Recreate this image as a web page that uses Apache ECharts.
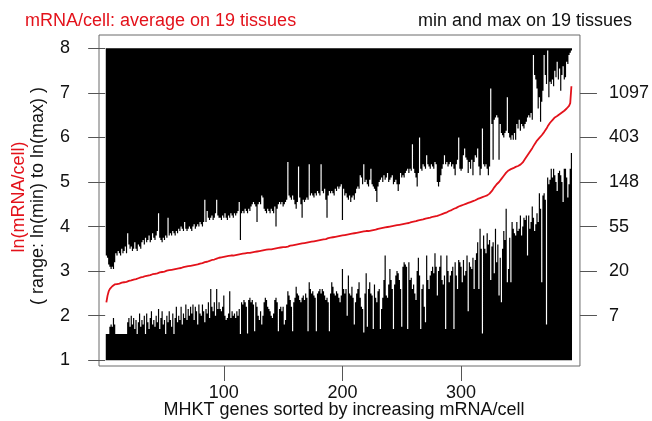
<!DOCTYPE html>
<html><head><meta charset="utf-8">
<script src="https://cdn.jsdelivr.net/npm/echarts@6/dist/echarts.min.js"></script>
<style>html,body{margin:0;padding:0;background:#fff}#c{width:652px;height:421px}</style>
</head><body><div id="c"></div>
<script>
// ln(max) per gene (genes sorted by increasing mean mRNA/cell)
const maxLn = [
3.35,3.3,3.15,3.1,3.05,3.1,3.05,3.2,3.4,3.35,
3.45,3.4,3.35,3.5,3.4,3.45,3.55,3.4,3.85,3.6,
3.5,3.55,3.45,3.5,3.65,3.5,3.45,3.6,3.55,3.5,
3.65,3.7,3.6,3.75,3.65,3.7,3.8,3.65,3.7,3.85,
3.75,3.7,3.8,3.9,4.3,3.75,3.7,3.65,3.75,3.7,
3.8,3.75,4.2,3.8,3.85,3.8,3.9,3.85,3.8,3.9,
3.85,3.95,3.9,4.0,3.95,3.9,4.1,3.95,3.9,3.95,
4.0,3.95,3.9,4.0,4.05,3.95,4.0,4.05,4.0,4.1,
4.05,4.0,4.1,4.6,4.1,4.35,4.2,4.15,4.2,4.25,
4.15,4.2,4.3,4.6,4.25,4.2,4.2,4.15,4.25,4.2,
4.3,4.2,4.15,4.25,4.2,4.3,4.25,4.2,4.3,4.25,
4.3,4.35,4.55,3.7,4.3,4.35,4.3,4.4,4.35,4.3,
4.4,4.35,4.45,4.5,4.55,4.5,4.45,4.1,4.5,4.55,
4.5,4.7,4.65,4.4,4.35,4.3,4.4,4.35,4.3,4.4,
4.35,4.3,4.45,4.0,4.4,4.5,4.55,4.5,4.55,4.45,
4.5,4.55,4.6,5.45,4.7,4.65,4.6,4.7,4.6,4.5,
4.4,4.55,5.35,4.65,4.5,4.2,4.6,4.55,4.6,4.65,
4.6,5.4,4.7,4.75,4.7,4.65,4.75,4.7,4.8,4.75,
4.7,5.4,4.8,4.75,4.85,4.6,4.2,4.7,4.8,4.75,
4.8,4.75,4.7,4.85,4.8,4.9,4.85,4.9,4.95,4.15,
4.85,4.7,4.75,4.65,4.6,4.7,4.55,4.65,4.7,4.6,
4.75,4.85,4.9,4.85,5.15,5.1,4.95,5.4,5.0,5.05,
4.95,4.9,5.05,5.3,4.95,4.9,4.85,4.8,4.55,4.9,
5.0,5.05,5.1,5.0,5.15,5.05,5.1,5.2,5.0,5.05,
5.1,5.15,4.95,5.0,5.05,4.95,4.8,4.95,5.2,5.1,
5.15,5.1,5.2,5.25,5.3,5.2,5.3,5.25,5.85,5.3,
5.2,5.1,4.9,5.2,6.0,5.3,5.25,5.4,5.35,5.3,
5.6,5.4,5.35,5.3,5.4,5.35,5.3,5.45,5.4,5.0,
4.9,5.0,5.15,5.3,5.4,5.6,5.4,5.45,5.35,5.4,
5.45,5.35,5.4,5.3,5.15,5.4,5.5,6.0,5.3,5.25,
5.3,5.6,5.75,5.55,5.5,5.2,5.45,5.3,5.5,5.15,
5.45,5.6,5.55,5.75,5.35,5.15,5.3,6.2,5.4,5.35,
5.4,5.3,5.15,5.35,7.1,6.3,5.5,6.4,6.45,6.5,
6.45,5.5,6.3,6.1,6.05,6.0,6.1,6.15,6.9,6.1,
6.0,5.95,6.05,5.95,6.1,5.95,6.3,6.2,6.4,6.15,
6.3,6.25,6.2,6.3,6.35,6.45,6.5,6.45,6.55,6.4,
7.85,7.4,7.3,7.1,6.65,6.9,6.35,6.8,7.05,7.85,
7.4,7.2,7.95,6.9,7.25,7.2,7.3,7.15,7.5,7.35,
7.7,7.3,7.55,7.05,7.4,7.6,7.3,7.35,7.7,7.65,
7.85,7.9,7.95
];
// ln(min) per gene
const minLn = [
1.59,1.59,1.59,1.75,1.8,1.75,1.95,1.8,1.59,1.59,
1.59,1.59,1.59,1.59,1.59,1.59,1.59,1.59,1.85,1.95,
1.75,2.0,1.8,1.95,1.7,1.9,1.59,1.85,2.05,1.75,
1.9,1.8,2.0,1.59,2.05,1.85,1.7,1.95,2.1,1.8,
1.9,1.75,2.0,1.85,2.15,1.7,1.95,2.1,1.8,1.9,
1.59,2.0,1.85,2.1,1.9,1.75,2.05,1.59,1.95,2.2,
1.85,2.0,1.9,2.2,1.8,2.05,1.95,2.25,1.9,2.15,
2.0,2.2,2.05,2.25,1.9,2.2,2.1,1.8,2.25,2.05,
2.0,2.25,2.1,1.85,2.15,2.05,2.3,1.95,2.6,2.2,
2.1,2.3,2.0,2.6,2.15,2.3,2.15,2.1,2.2,2.45,
2.0,1.9,1.95,2.05,2.55,1.95,2.1,2.0,2.05,1.95,
2.1,2.0,2.15,1.59,2.3,2.25,2.35,2.3,2.2,1.6,
2.35,2.4,2.3,2.35,2.25,1.65,2.3,2.2,2.0,1.9,
2.1,1.8,2.0,2.3,2.4,2.35,2.2,2.15,2.1,2.0,
1.95,2.05,2.35,2.4,2.3,1.65,2.15,2.2,2.1,2.2,
1.8,1.9,2.25,2.55,2.45,2.35,2.2,1.65,2.3,2.4,
2.65,2.5,2.45,2.35,2.3,2.4,2.45,2.35,2.5,2.4,
1.65,2.75,2.6,2.5,2.55,2.45,2.4,1.65,2.5,2.55,
2.6,2.5,2.6,2.55,2.45,2.35,2.4,2.3,1.65,2.5,
2.75,2.65,2.5,2.45,2.55,2.5,2.4,2.3,2.45,3.05,
2.6,2.5,2.6,2.0,2.9,2.5,2.45,2.65,2.4,1.8,
2.3,2.5,2.6,2.75,2.4,2.2,2.15,1.62,2.5,2.95,
1.75,2.6,2.75,2.5,2.45,1.7,2.7,2.4,2.3,2.55,
2.6,1.7,2.15,2.4,2.8,3.35,2.45,2.4,2.7,3.05,
2.8,2.6,1.7,2.7,2.9,3.0,2.95,2.8,2.6,1.75,
3.1,3.2,3.15,3.1,1.7,3.2,2.8,2.85,2.6,2.7,
2.5,2.35,3.0,3.3,2.9,1.7,2.6,2.7,2.2,1.85,
3.35,2.8,2.6,2.9,3.0,3.1,2.95,3.4,3.1,2.45,
3.0,3.1,3.35,2.8,2.7,2.9,1.7,3.35,3.0,2.75,
2.9,3.0,3.1,1.7,3.2,2.9,2.6,3.25,3.2,3.1,
2.75,3.25,2.9,3.0,3.35,2.1,3.2,3.1,3.05,3.3,
2.6,3.25,3.4,3.65,2.6,3.95,3.5,1.6,3.8,3.5,
3.4,3.85,3.6,3.7,2.8,3.55,3.65,2.95,3.95,3.2,
3.6,2.45,3.3,2.3,3.5,3.9,3.7,4.4,2.75,3.05,
3.75,2.75,4.1,3.95,3.85,3.8,4.1,3.9,3.95,4.25,
3.8,4.0,4.2,4.15,4.25,3.35,4.25,3.95,4.1,4.45,
4.2,3.9,4.05,4.3,4.1,4.75,4.4,2.75,4.7,4.75,
4.6,1.8,5.1,4.95,5.05,5.3,5.1,5.3,5.15,5.0,
4.8,5.2,5.25,5.15,5.0,4.55,5.3,5.3,5.1,4.65,
4.95,5.3,5.65
];
// ln(average mRNA/cell) per gene
const avgLn = [
2.30,2.45,2.55,2.60,2.63,2.66,2.68,2.70,2.70,2.71,
2.72,2.72,2.73,2.74,2.74,2.75,2.76,2.76,2.77,2.78,
2.79,2.79,2.80,2.81,2.82,2.82,2.83,2.84,2.85,2.86,
2.86,2.87,2.88,2.89,2.89,2.90,2.91,2.91,2.92,2.93,
2.93,2.94,2.95,2.95,2.96,2.97,2.97,2.98,2.99,2.99,
3.00,3.01,3.01,3.02,3.02,3.03,3.04,3.04,3.05,3.05,
3.06,3.06,3.07,3.07,3.08,3.09,3.09,3.10,3.10,3.11,
3.11,3.12,3.12,3.13,3.14,3.14,3.15,3.15,3.16,3.17,
3.17,3.18,3.19,3.20,3.20,3.21,3.22,3.23,3.24,3.25,
3.25,3.26,3.27,3.28,3.29,3.30,3.30,3.31,3.31,3.32,
3.32,3.33,3.33,3.34,3.34,3.35,3.35,3.35,3.36,3.36,
3.37,3.37,3.38,3.38,3.39,3.39,3.40,3.40,3.40,3.41,
3.41,3.41,3.42,3.42,3.43,3.43,3.44,3.44,3.45,3.45,
3.45,3.46,3.46,3.47,3.47,3.48,3.48,3.49,3.49,3.49,
3.50,3.50,3.51,3.51,3.52,3.52,3.52,3.53,3.53,3.54,
3.54,3.54,3.55,3.55,3.56,3.57,3.57,3.58,3.58,3.59,
3.59,3.60,3.60,3.61,3.62,3.62,3.63,3.63,3.64,3.64,
3.65,3.65,3.66,3.66,3.67,3.67,3.68,3.68,3.68,3.69,
3.69,3.70,3.70,3.71,3.72,3.72,3.73,3.74,3.74,3.75,
3.75,3.76,3.76,3.77,3.77,3.78,3.78,3.79,3.79,3.80,
3.80,3.81,3.81,3.82,3.82,3.83,3.83,3.84,3.84,3.85,
3.85,3.86,3.86,3.87,3.87,3.88,3.88,3.89,3.89,3.90,
3.90,3.90,3.91,3.91,3.92,3.92,3.93,3.93,3.94,3.95,
3.95,3.96,3.96,3.97,3.97,3.98,3.98,3.99,3.99,4.00,
4.00,4.01,4.01,4.02,4.02,4.03,4.03,4.04,4.04,4.05,
4.05,4.06,4.06,4.07,4.08,4.08,4.09,4.10,4.10,4.11,
4.12,4.12,4.13,4.14,4.14,4.15,4.16,4.16,4.17,4.18,
4.18,4.19,4.20,4.20,4.21,4.22,4.22,4.23,4.24,4.24,
4.25,4.26,4.27,4.28,4.29,4.30,4.31,4.32,4.33,4.35,
4.36,4.37,4.38,4.40,4.41,4.42,4.44,4.45,4.46,4.47,
4.48,4.49,4.50,4.51,4.52,4.53,4.54,4.55,4.56,4.57,
4.58,4.59,4.60,4.62,4.63,4.64,4.65,4.66,4.67,4.68,
4.69,4.70,4.72,4.74,4.76,4.80,4.84,4.88,4.92,4.95,
4.97,5.00,5.03,5.07,5.11,5.14,5.18,5.21,5.24,5.26,
5.28,5.29,5.30,5.31,5.33,5.34,5.35,5.36,5.37,5.39,
5.41,5.44,5.48,5.52,5.56,5.60,5.64,5.68,5.72,5.76,
5.80,5.85,5.89,5.93,5.96,5.99,6.02,6.05,6.08,6.12,
6.16,6.20,6.25,6.29,6.33,6.36,6.39,6.42,6.45,6.47,
6.48,6.50,6.52,6.54,6.56,6.58,6.60,6.62,6.65,6.68,
6.71,6.77,7.15
];
const xTicks = [100, 200, 300];
const yTicks = [1, 2, 3, 4, 5, 6, 7, 8];
const rightTickPos = [2, 3, 4, 5, 6, 7];
const rightTickLabels = ['7', '20', '55', '148', '403', '1097'];
const floorLn = 1, ceilLn = 8;
const genes = maxLn.map((_, i) => i + 1);

const F = '"Liberation Sans", Arial, Helvetica, sans-serif';
const RED = '#e3121b';
const pair = arr => arr.map((v, i) => [genes[i], v]);

const chart = echarts.init(document.getElementById('c'), null, { renderer: 'canvas' });

const tickStyle = { color: '#555', width: 1 };
const labelStyle = { fontSize: 18, fontFamily: F, color: '#111' };

// step polygon between a per-gene boundary and a fixed level, via the axis scales
function bandPolygon(api, values, level) {
  const pts = [api.coord([genes[0] - 0.5, level])];
  values.forEach((v, i) => {
    pts.push(api.coord([genes[i] - 0.5, v]));
    pts.push(api.coord([genes[i] + 0.5, v]));
  });
  pts.push(api.coord([genes[genes.length - 1] + 0.5, level]));
  return pts;
}

const option = {
  animation: false,
  grid: { left: 99, right: 71, top: 35, bottom: 55, show: true, borderColor: '#6a6a6a', borderWidth: 1 },
  xAxis: {
    type: 'value', min: -5.2, max: 400.2,
    axisLine: { show: false }, splitLine: { show: false },
    axisTick: { show: true, length: 15, lineStyle: tickStyle, customValues: xTicks },
    axisLabel: Object.assign({ customValues: xTicks, margin: 18 }, labelStyle)
  },
  yAxis: [{
    type: 'value', min: 0.87, max: 8.3,
    axisLine: { show: false }, splitLine: { show: false },
    axisTick: { show: true, length: 17, lineStyle: tickStyle, customValues: yTicks },
    axisLabel: Object.assign({ customValues: yTicks, margin: 29 }, labelStyle)
  }, {
    type: 'value', min: 0.87, max: 8.3, position: 'right',
    axisLine: { show: false }, splitLine: { show: false },
    axisTick: { show: true, length: 17, lineStyle: tickStyle, customValues: rightTickPos },
    axisLabel: Object.assign({ customValues: rightTickPos, margin: 29,
      formatter: v => rightTickLabels[rightTickPos.indexOf(v)] }, labelStyle)
  }],
  series: [
    { type: 'custom', silent: true, data: [[genes[0], floorLn]],
      encode: { x: 0, y: 1 },
      renderItem: (params, api) => ({
        type: 'group',
        children: [
          { type: 'polygon', shape: { points: bandPolygon(api, minLn, floorLn) }, style: { fill: '#000' } },
          { type: 'polygon', shape: { points: bandPolygon(api, maxLn, ceilLn) }, style: { fill: '#000' } }
        ]
      })
    },
    { type: 'line', symbol: 'none', silent: true, z: 5,
      data: pair(avgLn), lineStyle: { color: RED, width: 1.8 } }
  ],
  graphic: [
    { type: 'text', x: 25, y: 21, style: { text: 'mRNA/cell: average on 19 tissues', fill: RED, font: '18px ' + F, verticalAlign: 'middle' } },
    { type: 'text', x: 632, y: 21, style: { text: 'min and max on 19 tissues', fill: '#111', font: '18px ' + F, align: 'right', verticalAlign: 'middle' } },
    { type: 'text', x: 344, y: 410, style: { text: 'MHKT genes sorted by increasing mRNA/cell', fill: '#111', font: '18px ' + F, align: 'center', verticalAlign: 'middle' } },
    { type: 'text', x: 19, y: 197, rotation: Math.PI / 2, style: { text: 'ln(mRNA/cell)', fill: RED, font: '18px ' + F, align: 'center', verticalAlign: 'middle' } },
    { type: 'text', x: 38, y: 196, rotation: Math.PI / 2, style: { text: '( range: ln(min) to ln(max) )', fill: '#111', font: '18px ' + F, align: 'center', verticalAlign: 'middle' } }
  ]
};
chart.setOption(option);
</script>
</body></html>
